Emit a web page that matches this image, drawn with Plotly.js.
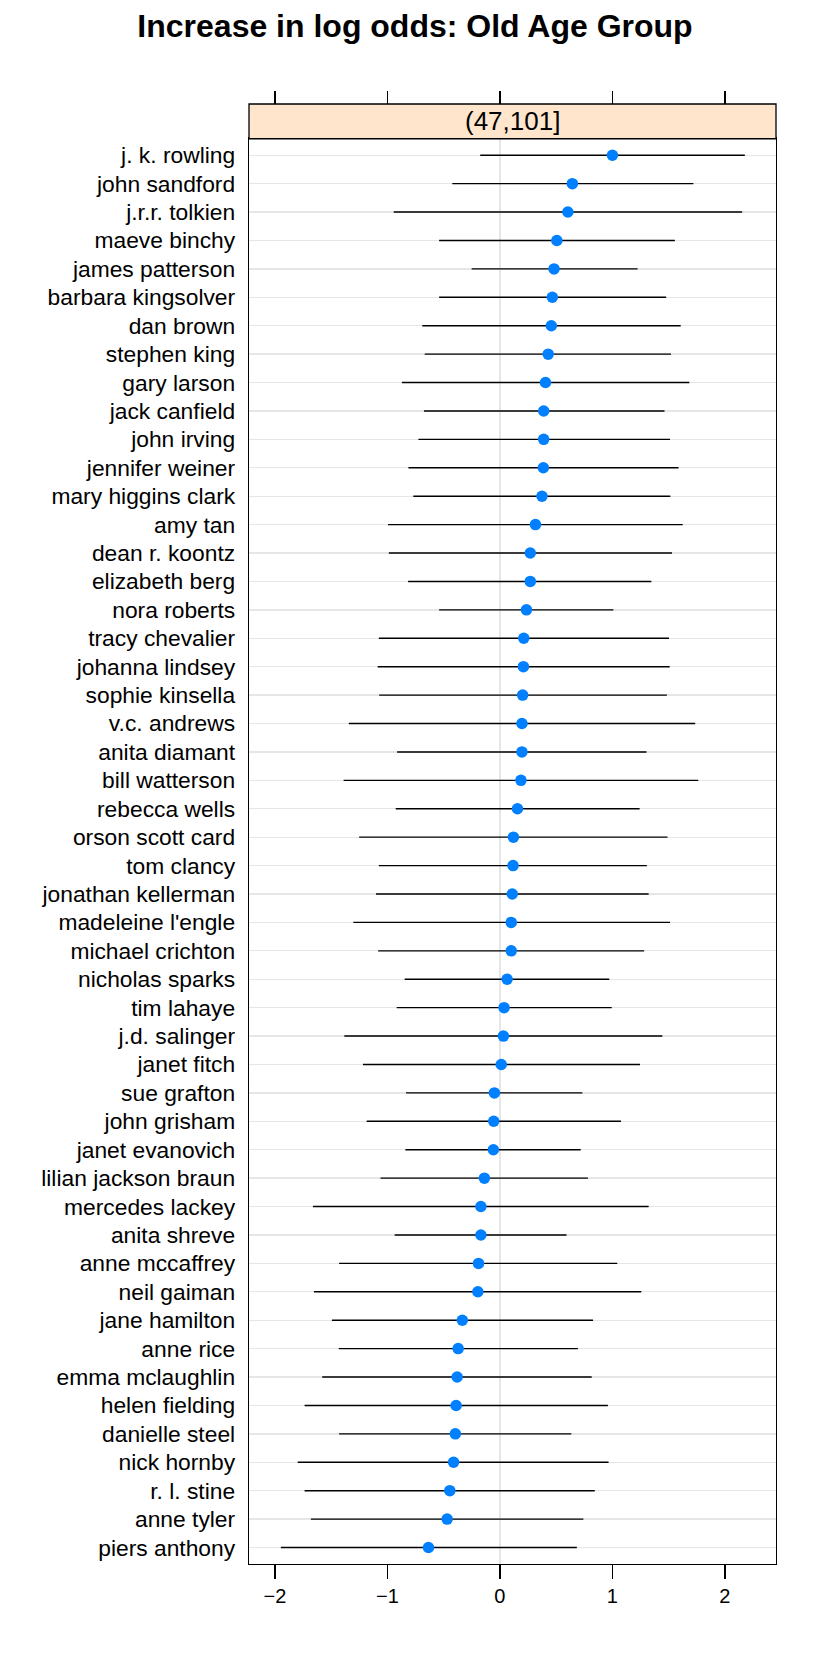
<!DOCTYPE html>
<html>
<head>
<meta charset="utf-8">
<script src="https://cdn.plot.ly/plotly-3.0.1.min.js"></script>
<style>
  html, body { margin: 0; padding: 0; background: #fff; }
  #plot { width: 830px; height: 1661px; }
</style>
</head>
<body>
<div id="plot"></div>
<script>
// Authors, top to bottom as in the dotplot
let authors = [
    "j. k. rowling", "john sandford", "j.r.r. tolkien", "maeve binchy", "james patterson",
    "barbara kingsolver", "dan brown", "stephen king", "gary larson", "jack canfield",
    "john irving", "jennifer weiner", "mary higgins clark", "amy tan", "dean r. koontz",
    "elizabeth berg", "nora roberts", "tracy chevalier", "johanna lindsey", "sophie kinsella",
    "v.c. andrews", "anita diamant", "bill watterson", "rebecca wells", "orson scott card",
    "tom clancy", "jonathan kellerman", "madeleine l'engle", "michael crichton", "nicholas sparks",
    "tim lahaye", "j.d. salinger", "janet fitch", "sue grafton", "john grisham",
    "janet evanovich", "lilian jackson braun", "mercedes lackey", "anita shreve", "anne mccaffrey",
    "neil gaiman", "jane hamilton", "anne rice", "emma mclaughlin", "helen fielding",
    "danielle steel", "nick hornby", "r. l. stine", "anne tyler", "piers anthony"
];

// Estimated increase in log odds (the dots)
let estimate = [
    1.00, 0.644, 0.604, 0.506, 0.481,
    0.466, 0.457, 0.429, 0.405, 0.389,
    0.389, 0.386, 0.374, 0.316, 0.270,
    0.270, 0.236, 0.212, 0.209, 0.202,
    0.196, 0.196, 0.187, 0.156, 0.120,
    0.117, 0.110, 0.101, 0.101, 0.064,
    0.037, 0.031, 0.012, -0.049, -0.055,
    -0.058, -0.138, -0.169, -0.169, -0.190,
    -0.196, -0.334, -0.371, -0.380, -0.389,
    -0.396, -0.412, -0.445, -0.469, -0.635
];

// Interval ends
let lower = [
    -0.175, -0.423, -0.944, -0.540, -0.251,
    -0.540, -0.690, -0.668, -0.871, -0.675,
    -0.724, -0.813, -0.770, -0.994, -0.987,
    -0.816, -0.540, -1.076, -1.086, -1.073,
    -1.343, -0.914, -1.389, -0.926, -1.251,
    -1.076, -1.101, -1.303, -1.082, -0.846,
    -0.917, -1.383, -1.217, -0.834, -1.184,
    -0.840, -1.061, -1.662, -0.935, -1.429,
    -1.653, -1.493, -1.432, -1.579, -1.736,
    -1.429, -1.797, -1.736, -1.680, -1.947
];
let upper = [
    2.177, 1.720, 2.153, 1.555, 1.224,
    1.478, 1.607, 1.521, 1.684, 1.463,
    1.512, 1.588, 1.515, 1.625, 1.530,
    1.346, 1.009, 1.503, 1.509, 1.484,
    1.736, 1.303, 1.763, 1.242, 1.490,
    1.306, 1.322, 1.512, 1.282, 0.972,
    0.994, 1.444, 1.245, 0.733, 1.076,
    0.718, 0.782, 1.322, 0.592, 1.043,
    1.257, 0.828, 0.693, 0.816, 0.960,
    0.635, 0.966, 0.843, 0.742, 0.684
];

let xTicks = [-2, -1, 0, 1, 2];
let xTickText = ["\u22122", "\u22121", "0", "1", "2"];
let panelLabel = "(47,101]";

let fontFamily = '"Liberation Sans", Arial, Helvetica, sans-serif';
let xRange = [-2.230, 2.454];
let stripBottom = 0.9762; // top of the data panel, strip sits above it

function plotData() {
    let traceDots = {
        x: estimate,
        y: authors,
        mode: 'markers',
        type: 'scatter',
        marker: { size: 11.5, color: '#0080ff' },
        error_x: {
            type: 'data',
            symmetric: false,
            array: upper.map((u, i) => u - estimate[i]),
            arrayminus: lower.map((l, i) => estimate[i] - l),
            width: 0,
            thickness: 1.4,
            color: '#000000'
        },
        hoverinfo: 'x+y'
    };

    // Empty trace so the top tick axis is drawn
    let traceTop = {
        x: [], y: [], xaxis: 'x2', yaxis: 'y',
        type: 'scatter', mode: 'markers', showlegend: false
    };

    let layout = {
        width: 830,
        height: 1661,
        margin: { l: 249.3, r: 54.2, t: 104, b: 97 },
        paper_bgcolor: '#ffffff',
        plot_bgcolor: '#ffffff',
        showlegend: false,
        font: { family: fontFamily, color: '#000000' },
        title: {
            text: '<b>Increase in log odds: Old Age Group</b>',
            font: { family: fontFamily, size: 32, color: '#000000' },
            x: 0.5, xref: 'container', xanchor: 'center',
            y: 1 - 26 / 1661, yref: 'container', yanchor: 'middle'
        },
        xaxis: {
            range: xRange,
            tickvals: xTicks,
            ticktext: xTickText,
            ticks: 'outside', ticklen: 13.5, tickwidth: 1.3, tickcolor: '#000000',
            tickfont: { size: 20 },
            showgrid: false,
            zeroline: true, zerolinecolor: '#e6e6e6', zerolinewidth: 1.3,
            showline: true, linecolor: '#000000', linewidth: 1.3, mirror: true
        },
        xaxis2: {
            range: xRange,
            overlaying: 'x',
            anchor: 'free', position: 1, side: 'top',
            tickvals: xTicks,
            ticks: 'outside', ticklen: 13.5, tickwidth: 1.3, tickcolor: '#000000',
            showticklabels: false, showgrid: false, zeroline: false, showline: false
        },
        yaxis: {
            domain: [0, stripBottom],
            type: 'category',
            categoryorder: 'array',
            categoryarray: authors,
            range: [49.58, -0.58],
            ticks: 'outside', ticklen: 8, tickcolor: 'rgba(0,0,0,0)',
            tickfont: { size: 22.8 },
            showgrid: true, gridcolor: '#e6e6e6', gridwidth: 1.3,
            zeroline: false,
            showline: true, linecolor: '#000000', linewidth: 1.3, mirror: true
        },
        shapes: [
            {
                type: 'rect', xref: 'paper', yref: 'paper',
                x0: 0, x1: 1, y0: stripBottom, y1: 1,
                fillcolor: '#ffe5cc',
                line: { color: '#000000', width: 1.3 },
                layer: 'above'
            }
        ],
        annotations: [
            {
                text: panelLabel,
                xref: 'paper', yref: 'paper',
                x: 0.5, y: (stripBottom + 1) / 2,
                xanchor: 'center', yanchor: 'middle',
                showarrow: false,
                font: { family: fontFamily, size: 26, color: '#000000' }
            }
        ]
    };

    Plotly.newPlot('plot', [traceDots, traceTop], layout, { displayModeBar: false, staticPlot: true });
}

plotData();
</script>
</body>
</html>
